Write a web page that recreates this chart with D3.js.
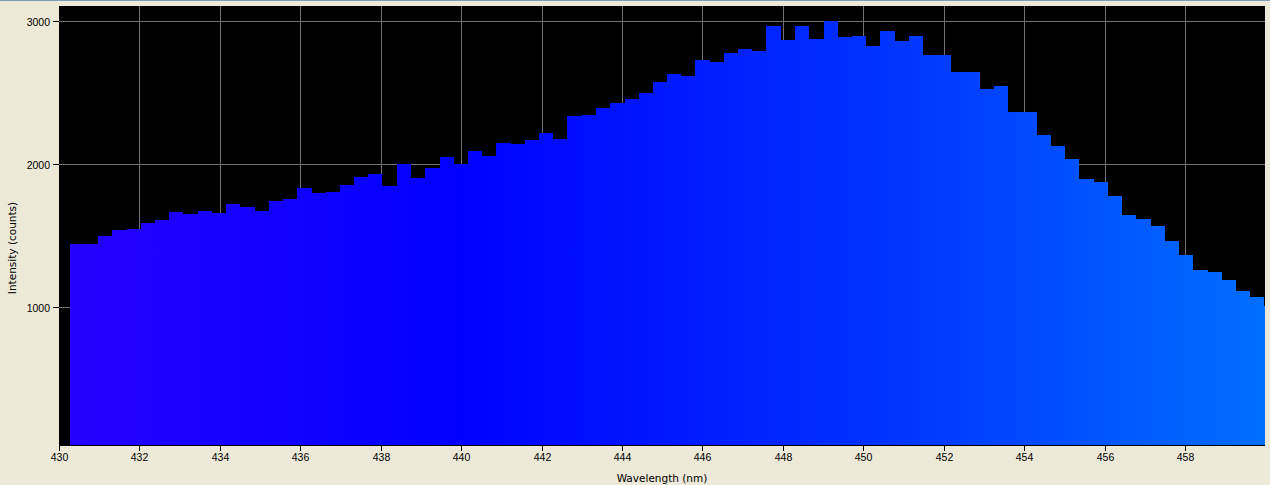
<!DOCTYPE html>
<html>
<head>
<meta charset="utf-8">
<script src="https://cdn.jsdelivr.net/npm/d3@7/dist/d3.min.js"></script>
<style>
  html, body { margin: 0; padding: 0; background: #ECE9D8; }
  svg { display: block; }
</style>
</head>
<body>
<svg id="chart" width="1270" height="485"></svg>
<script>
// ---- data ----
const wavelengths = [
  430.25, 430.61, 430.96, 431.31, 431.67, 432.02, 432.38, 432.73, 433.08, 433.44,
  433.79, 434.14, 434.50, 434.85, 435.20, 435.56, 435.91, 436.27, 436.62, 436.97,
  437.33, 437.68, 438.03, 438.39, 438.74, 439.10, 439.45, 439.80, 440.16, 440.51,
  440.86, 441.22, 441.57, 441.92, 442.28, 442.63, 442.99, 443.34, 443.69, 444.05,
  444.40, 444.75, 445.11, 445.46, 445.81, 446.17, 446.52, 446.88, 447.23, 447.58,
  447.94, 448.29, 448.64, 449.00, 449.35, 449.70, 450.06, 450.41, 450.77, 451.12,
  451.47, 451.83, 452.18, 452.53, 452.89, 453.24, 453.59, 453.95, 454.30, 454.66,
  455.01, 455.36, 455.72, 456.07, 456.42, 456.78, 457.13, 457.48, 457.84, 458.19,
  458.55, 458.90, 459.25, 459.61, 459.96
];
const intensity = [
  1445, 1445, 1501, 1543, 1550, 1591, 1612, 1668, 1655, 1675,
  1661, 1724, 1703, 1675, 1745, 1759, 1836, 1801, 1808, 1857,
  1913, 1934, 1850, 2003, 1906, 1976, 2052, 2003, 2094, 2059,
  2150, 2143, 2171, 2220, 2178, 2339, 2346, 2395, 2429, 2457,
  2499, 2576, 2632, 2618, 2730, 2716, 2779, 2807, 2793, 2967,
  2869, 2967, 2876, 3002, 2890, 2897, 2828, 2932, 2862, 2897,
  2765, 2765, 2646, 2646, 2527, 2548, 2367, 2367, 2206, 2129,
  2038, 1899, 1878, 1780, 1647, 1619, 1571, 1466, 1368, 1263,
  1249, 1193, 1117, 1075, 1012
];
const xTicks = [430, 432, 434, 436, 438, 440, 442, 444, 446, 448, 450, 452, 454, 456, 458];
const yTicks = [1000, 2000, 3000];
const xDomain = [430, 460];
const yDomain = [41, 3107];
const xTitle = "Wavelength (nm)";
const yTitle = "Intensity (counts)";
const spectrumStops = [
  { nm: 430, color: "#2600FF" },
  { nm: 440, color: "#0000FF" },
  { nm: 450, color: "#0030FF" },
  { nm: 460, color: "#006EFF" }
];

// ---- layout ----
const plot = { left: 59, top: 6, right: 1265, bottom: 445 };

const svg = d3.select("#chart");

// window top border
svg.append("rect").attr("x", 0).attr("y", 0).attr("width", 1270).attr("height", 1).attr("fill", "#7F9DB9");

const x = d3.scaleLinear().domain(xDomain).range([59.5, 1265.93]);
const y = d3.scaleLinear().domain(yDomain).range([plot.bottom, plot.top]);

const defs = svg.append("defs");
defs.append("clipPath").attr("id", "plotClip")
  .append("rect")
  .attr("x", plot.left).attr("y", plot.top)
  .attr("width", plot.right - plot.left).attr("height", plot.bottom - plot.top);

const grad = defs.append("linearGradient")
  .attr("id", "spectrum")
  .attr("gradientUnits", "userSpaceOnUse")
  .attr("x1", x(xDomain[0])).attr("x2", x(xDomain[1]))
  .attr("y1", 0).attr("y2", 0);
grad.selectAll("stop").data(spectrumStops).join("stop")
  .attr("offset", d => (d.nm - xDomain[0]) / (xDomain[1] - xDomain[0]))
  .attr("stop-color", d => d.color);

// plot background
svg.append("rect")
  .attr("x", plot.left).attr("y", plot.top)
  .attr("width", plot.right - plot.left).attr("height", plot.bottom - plot.top + 1)
  .attr("fill", "#000000");

// gridlines
const grid = svg.append("g").attr("clip-path", "url(#plotClip)");
grid.selectAll("line.vg").data(xTicks.slice(1)).join("line")
  .attr("class", "vg")
  .attr("x1", d => Math.floor(x(d)) + 0.5).attr("x2", d => Math.floor(x(d)) + 0.5)
  .attr("y1", plot.top).attr("y2", plot.bottom)
  .attr("stroke", "#707070").attr("stroke-width", 1);
grid.selectAll("line.hg").data(yTicks).join("line")
  .attr("class", "hg")
  .attr("x1", plot.left).attr("x2", plot.right)
  .attr("y1", d => Math.floor(y(d)) + 0.5).attr("y2", d => Math.floor(y(d)) + 0.5)
  .attr("stroke", "#707070").attr("stroke-width", 1);

// bars
const step = wavelengths[1] - wavelengths[0];
const bars = svg.append("g").attr("clip-path", "url(#plotClip)");
bars.selectAll("rect").data(wavelengths).join("rect")
  .attr("x", (d, i) => Math.round(x(d)))
  .attr("width", (d, i) => {
    const next = i < wavelengths.length - 1 ? wavelengths[i + 1] : d + step;
    return Math.round(x(next)) - Math.round(x(d));
  })
  .attr("y", (d, i) => Math.round(y(intensity[i])))
  .attr("height", (d, i) => plot.bottom - Math.round(y(intensity[i])))
  .attr("fill", "url(#spectrum)")
  .attr("shape-rendering", "crispEdges");

// x axis
const xAxis = svg.append("g");
xAxis.append("line")
  .attr("x1", plot.left).attr("x2", plot.right)
  .attr("y1", plot.bottom + 0.5).attr("y2", plot.bottom + 0.5)
  .attr("stroke", "#000");
xAxis.selectAll("line.t").data(xTicks).join("line")
  .attr("class", "t")
  .attr("x1", d => Math.floor(x(d)) + 0.5).attr("x2", d => Math.floor(x(d)) + 0.5)
  .attr("y1", plot.bottom).attr("y2", plot.bottom + 6)
  .attr("stroke", "#000");
xAxis.selectAll("text").data(xTicks).join("text")
  .attr("x", d => Math.floor(x(d)) + 0.5)
  .attr("y", 461)
  .attr("text-anchor", "middle")
  .attr("font-family", "'Liberation Sans', Arial, sans-serif")
  .attr("font-size", "10.5px")
  .attr("fill", "#000")
  .text(d => d);

// y axis
const yAxis = svg.append("g");
yAxis.selectAll("line.t").data(yTicks).join("line")
  .attr("class", "t")
  .attr("x1", plot.left - 6).attr("x2", plot.left)
  .attr("y1", d => Math.floor(y(d)) + 0.5).attr("y2", d => Math.floor(y(d)) + 0.5)
  .attr("stroke", "#000");
yAxis.selectAll("text").data(yTicks).join("text")
  .attr("x", 50)
  .attr("y", d => Math.floor(y(d)) + 4.5)
  .attr("text-anchor", "end")
  .attr("font-family", "'Liberation Sans', Arial, sans-serif")
  .attr("font-size", "10.5px")
  .attr("fill", "#000")
  .text(d => d);

// titles
svg.append("text")
  .attr("x", 662).attr("y", 482)
  .attr("text-anchor", "middle")
  .attr("font-family", "'DejaVu Sans', sans-serif")
  .attr("font-size", "10.5px")
  .attr("fill", "#000")
  .text(xTitle);
svg.append("text")
  .attr("transform", "translate(16,248) rotate(-90)")
  .attr("text-anchor", "middle")
  .attr("font-family", "'DejaVu Sans', sans-serif")
  .attr("font-size", "10.5px")
  .attr("fill", "#000")
  .text(yTitle);
</script>
</body>
</html>
